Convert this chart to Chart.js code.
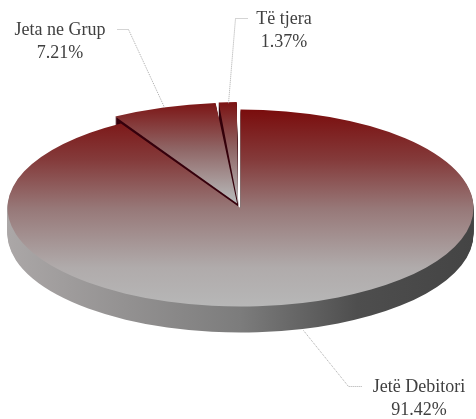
<!DOCTYPE html>
<html>
<head>
<meta charset="utf-8">
<style>
  html, body { margin: 0; padding: 0; background: #fff; }
  canvas { display: block; }
</style>
<script src="https://cdn.jsdelivr.net/npm/chart.js@4/dist/chart.umd.min.js"></script>
</head>
<body>
<canvas id="pie-chart" width="476" height="419"></canvas>
<script>
// data
var labels = ["Jetë Debitori", "Jeta ne Grup", "Të tjera"];
var values = [91.42, 7.21, 1.37];

// where the tilted pie sits on the page
var CX = 240, CY = 208, RX = 233, RY = 98.5, DEPTH = 26;

// label text position, then leader line points
var callouts = [
  { x: 419, y: 387, line: [[303, 330], [348, 386], [362, 386]] },
  { x: 60, y: 30, line: [[117, 29], [128, 29], [164, 107]] },
  { x: 284, y: 19, line: [[247, 18], [235, 18], [228, 103]] }
];

function paintArc(ctx, arc, fill, dx, dy) {
  var sx = RX / arc.outerRadius, sy = RY / arc.outerRadius;
  var saved = arc.options;
  arc.options = Object.create(saved, { backgroundColor: { value: fill } });
  ctx.save();
  ctx.translate(CX + dx, CY + dy);
  ctx.scale(sx, sy);
  ctx.translate(-arc.x, -arc.y);
  arc.draw(ctx);
  ctx.restore();
  arc.options = saved;
}

// vertical gradient given in page pixels, converted to the arc's own space
function topGradient(ctx, arc, y0, y1, stops) {
  var sy = RY / arc.outerRadius;
  var g = ctx.createLinearGradient(0, arc.y + (y0 - CY) / sy, 0, arc.y + (y1 - CY) / sy);
  stops.forEach(function (s) { g.addColorStop(s[0], s[1]); });
  return g;
}

function sideGradient(ctx, arc) {
  var sx = RX / arc.outerRadius;
  var g = ctx.createLinearGradient(arc.x - RX / sx, 0, arc.x + RX / sx, 0);
  g.addColorStop(0, "#aba7a7");
  g.addColorStop(0.5, "#7c7c7c");
  g.addColorStop(0.75, "#4e4e4e");
  g.addColorStop(1, "#444444");
  return g;
}

var pie3d = {
  id: "pie3d",
  beforeDatasetsDraw: function (chart) {
    var ctx = chart.ctx;
    var arcs = chart.getDatasetMeta(0).data;
    var main = arcs[0], i;
    var wedgeStops = [[0, "#7a0d0d"], [0.5, "#8f6565"], [1, "#b5b5b5"]];
    var mainStops = [[0, "#7a0d0d"], [0.25, "#843a3a"], [0.5, "#977878"], [0.8, "#b0abab"], [1, "#b7b7b7"]];

    // pulled out slices go first, their dark walls show in the gaps
    for (i = DEPTH; i >= 1; i--) {
      paintArc(ctx, arcs[1], "#36000c", 0.5, i);
      paintArc(ctx, arcs[2], "#36000c", -1.5, i);
    }
    paintArc(ctx, arcs[1], topGradient(ctx, arcs[1], 103, 203, wedgeStops), 0.5, 0);
    paintArc(ctx, arcs[2], topGradient(ctx, arcs[2], 103, 203, wedgeStops), -1.5, 0);

    var side = sideGradient(ctx, main);
    for (i = DEPTH; i >= 1; i--) paintArc(ctx, main, side, 0.5, i);
    paintArc(ctx, main, topGradient(ctx, main, 110, 307, mainStops), 0.5, 0);
    return false;
  },
  afterDraw: function (chart) {
    var ctx = chart.ctx;
    ctx.save();
    callouts.forEach(function (c, i) {
      ctx.strokeStyle = "#a9a9a9";
      ctx.lineWidth = 1;
      ctx.setLineDash([1, 1]);
      ctx.beginPath();
      c.line.forEach(function (p, j) {
        if (j === 0) ctx.moveTo(p[0] + 0.5, p[1] + 0.5);
        else ctx.lineTo(p[0] + 0.5, p[1] + 0.5);
      });
      ctx.stroke();
      ctx.setLineDash([]);
      ctx.fillStyle = "#404040";
      ctx.font = "18px 'Liberation Serif'";
      ctx.textAlign = "center";
      ctx.textBaseline = "middle";
      ctx.fillText(labels[i], c.x, c.y);
      ctx.fillText(values[i].toFixed(2) + "%", c.x, c.y + 23);
    });
    ctx.restore();
  }
};

var ctx = document.getElementById("pie-chart").getContext("2d");
var myPieChart = new Chart(ctx, {
  type: "pie",
  data: {
    labels: labels,
    datasets: [
      {
        data: values,
        backgroundColor: ["#7a0d0d", "#7a0d0d", "#7a0d0d"],
        borderWidth: 0,
        offset: [0, 36, 30]
      }
    ]
  },
  options: {
    responsive: false,
    animation: false,
    plugins: {
      legend: { display: false },
      tooltip: { enabled: false }
    }
  },
  plugins: [pie3d]
});
</script>
</body>
</html>
